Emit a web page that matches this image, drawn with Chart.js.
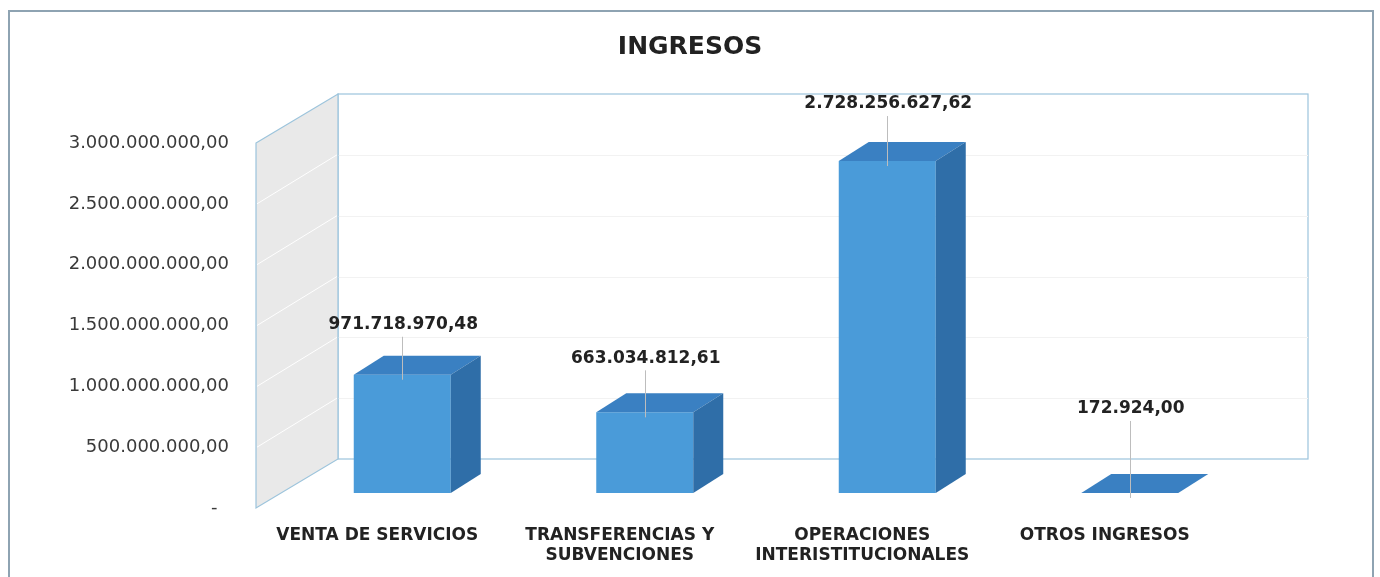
<!DOCTYPE html>
<html>
<head>
<meta charset="utf-8">
<script src="https://cdn.jsdelivr.net/npm/chart.js@4.4.1/dist/chart.umd.min.js"></script>
<style>
  html, body { margin: 0; padding: 0; background: #ffffff; }
  canvas { display: block; }
</style>
</head>
<body>
<canvas id="ingresosChart" width="1380" height="577"></canvas>
<script>
// Datos del gráfico
const categorias = [
    ['VENTA DE SERVICIOS'],
    ['TRANSFERENCIAS Y', 'SUBVENCIONES'],
    ['OPERACIONES', 'INTERISTITUCIONALES'],
    ['OTROS INGRESOS']
];
const ingresos = [971718970.48, 663034812.61, 2728256627.62, 172924.00];
const ticksY = [0, 500000000, 1000000000, 1500000000, 2000000000, 2500000000, 3000000000];

// Ajustes de la vista 3D (pixeles)
const WALL_DX = 82, WALL_DY = -49;     // profundidad de las paredes
const BAR_DX = 25, BAR_DY = -15;       // desplazamiento de la cara frontal
const DEPTH_DX = 30, DEPTH_DY = -19;   // profundidad de cada barra
const labelLift = [50, 54, 57, 84];    // altura de cada etiqueta sobre la barra

const fmt = v => v.toLocaleString('de-DE', { minimumFractionDigits: 2, maximumFractionDigits: 2 });

const marcoPlugin = {
    id: 'marco',
    beforeDraw(chart) {
        const { ctx, chartArea: a, scales: { y } } = chart;
        ctx.save();
        ctx.fillStyle = '#ffffff';
        ctx.fillRect(0, 0, chart.width, chart.height);
        // marco exterior
        ctx.strokeStyle = '#8ea3b2';
        ctx.lineWidth = 2;
        ctx.strokeRect(9, 11, 1364, 600);

        const top = y.getPixelForValue(3000000000);
        const bottom = y.getPixelForValue(0);

        // pared del fondo
        ctx.strokeStyle = '#9cc4dc';
        ctx.lineWidth = 1.2;
        ctx.strokeRect(a.left + WALL_DX, top + WALL_DY, a.right - a.left, bottom - top);

        // lineas de cuadricula del fondo (muy tenues)
        ctx.strokeStyle = '#f2f2f2';
        ctx.lineWidth = 1;
        ticksY.slice(1, -1).forEach(v => {
            const py = Math.round(y.getPixelForValue(v) + WALL_DY) + 0.5;
            ctx.beginPath();
            ctx.moveTo(a.left + WALL_DX, py);
            ctx.lineTo(a.right + WALL_DX, py);
            ctx.stroke();
        });

        // pared lateral
        ctx.beginPath();
        ctx.moveTo(a.left, top);
        ctx.lineTo(a.left + WALL_DX, top + WALL_DY);
        ctx.lineTo(a.left + WALL_DX, bottom + WALL_DY);
        ctx.lineTo(a.left, bottom);
        ctx.closePath();
        ctx.fillStyle = '#e9e9e9';
        ctx.fill();
        ctx.strokeStyle = '#9cc4dc';
        ctx.lineWidth = 1.2;
        ctx.stroke();

        ctx.strokeStyle = '#ffffff';
        ctx.lineWidth = 1;
        ticksY.slice(1, -1).forEach(v => {
            const py = y.getPixelForValue(v);
            ctx.beginPath();
            ctx.moveTo(a.left + 1, py);
            ctx.lineTo(a.left + WALL_DX - 1, py + WALL_DY);
            ctx.stroke();
        });
        ctx.restore();
    }
};

const barras3dPlugin = {
    id: 'barras3d',
    beforeDatasetsDraw(chart) {
        chart.ctx.save();
        chart.ctx.translate(BAR_DX, BAR_DY);
    },
    afterDatasetsDraw(chart) {
        const ctx = chart.ctx;
        ctx.restore();
        const meta = chart.getDatasetMeta(0);
        ctx.save();
        meta.data.forEach(bar => {
            const { x, y, base, width } = bar.getProps(['x', 'y', 'base', 'width'], true);
            const l = x - width / 2 + BAR_DX, r = x + width / 2 + BAR_DX;
            const t = y + BAR_DY, b = base + BAR_DY;
            // cara superior
            ctx.beginPath();
            ctx.moveTo(l, t);
            ctx.lineTo(l + DEPTH_DX, t + DEPTH_DY);
            ctx.lineTo(r + DEPTH_DX, t + DEPTH_DY);
            ctx.lineTo(r, t);
            ctx.closePath();
            ctx.fillStyle = '#3a80c2';
            ctx.fill();
            // cara lateral
            ctx.beginPath();
            ctx.moveTo(r, t);
            ctx.lineTo(r + DEPTH_DX, t + DEPTH_DY);
            ctx.lineTo(r + DEPTH_DX, b + DEPTH_DY);
            ctx.lineTo(r, b);
            ctx.closePath();
            ctx.fillStyle = '#2f6ea8';
            ctx.fill();
        });
        ctx.restore();
    },
    afterDraw(chart) {
        const ctx = chart.ctx;
        const meta = chart.getDatasetMeta(0);
        ctx.save();
        ctx.font = 'bold 17px "DejaVu Sans"';
        ctx.textAlign = 'center';
        ctx.textBaseline = 'middle';
        meta.data.forEach((bar, i) => {
            const { x, y } = bar.getProps(['x', 'y'], true);
            const cx = x + BAR_DX;
            const t = y + BAR_DY;
            const ly = t - labelLift[i];
            ctx.strokeStyle = '#bdbdbd';
            ctx.lineWidth = 1;
            ctx.beginPath();
            ctx.moveTo(Math.round(cx) + 0.5, ly + 12);
            ctx.lineTo(Math.round(cx) + 0.5, t + 5);
            ctx.stroke();
            ctx.fillStyle = '#222222';
            ctx.fillText(fmt(ingresos[i]), cx + 1, ly);
        });
        ctx.restore();
    }
};

new Chart(document.getElementById('ingresosChart'), {
    type: 'bar',
    data: {
        labels: categorias,
        datasets: [{
            label: 'Ingresos',
            data: ingresos,
            backgroundColor: '#4a9bd9',
            borderWidth: 0,
            categoryPercentage: 1,
            barPercentage: 0.4
        }]
    },
    options: {
        responsive: false,
        animation: false,
        layout: { padding: 0 },
        plugins: {
            legend: { display: false },
            tooltip: { enabled: false },
            title: {
                display: true,
                text: 'INGRESOS',
                color: '#222222',
                font: { family: 'DejaVu Sans', size: 25, weight: 'bold', lineHeight: 1.2 },
                padding: { top: 32, bottom: 81 }
            }
        },
        scales: {
            x: {
                grid: { display: false },
                border: { display: false },
                ticks: {
                    autoSkip: false,
                    maxRotation: 0,
                    padding: 9,
                    color: '#222222',
                    font: { family: 'DejaVu Sans', size: 17, weight: 'bold', lineHeight: 1.2 }
                },
                afterFit: s => { s.height = 69; }
            },
            y: {
                min: 0,
                max: 3000000000,
                grid: { display: false },
                border: { display: false },
                afterBuildTicks: s => { s.ticks = ticksY.map(v => ({ value: v })); },
                ticks: {
                    padding: 19,
                    color: '#3a3a3a',
                    font: { family: 'DejaVu Sans', size: 18 },
                    callback: v => v === 0 ? '-  ' : fmt(v)
                },
                afterFit: s => { s.width = 256; }
            },
            // eje vacío a la derecha, solo reserva espacio
            yVacio: {
                position: 'right',
                display: true,
                grid: { display: false },
                border: { display: false },
                ticks: { display: false },
                afterFit: s => { s.width = 154; }
            }
        }
    },
    plugins: [marcoPlugin, barras3dPlugin]
});
</script>
</body>
</html>
